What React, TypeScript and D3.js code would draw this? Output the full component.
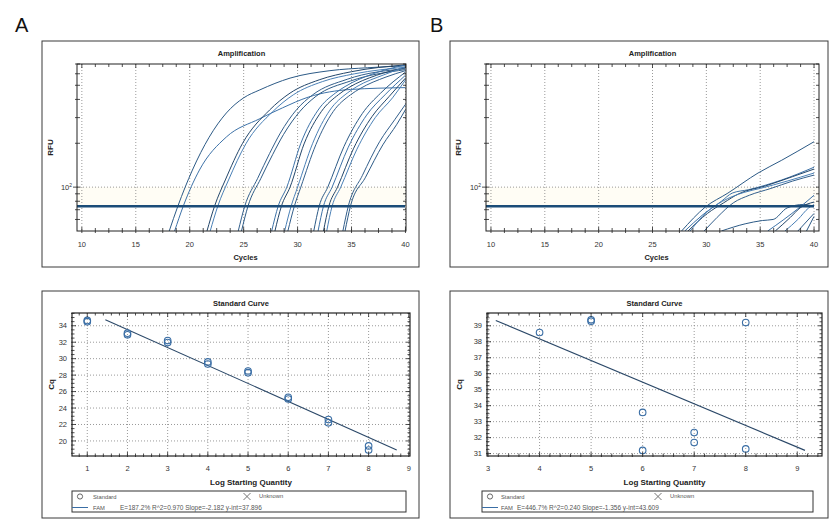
import React from "react";
import * as d3 from "d3";

type Pt = [number, number];

// ---------- DATA ----------
const panelLetters = ["A", "B"];
const ampTitle = "Amplification";
const ampXLabel = "Cycles";
const ampYLabel = "RFU";
const ampCycleTicks = [10, 15, 20, 25, 30, 35, 40];
const ampRfuDomain = [50, 700];
const ampRfuMinorTicks = [60, 70, 80, 90, 200, 300, 400, 500, 600, 700];
const ampThreshold = 74;

const curvesA: Pt[][] = [
  [[18.1, 50], [18.9, 74], [20.25, 131], [21.8, 220], [23.4, 323], [25.0, 410], [26.5, 465], [29.3, 560], [33, 630], [36.5, 660], [40, 680]],
  [[18.6, 50], [19.4, 74], [20.9, 131], [23.4, 221], [26.5, 295], [28.6, 350], [31, 415], [34.9, 468], [40, 482]],
  [[21.6, 50], [22.3, 74], [23.3, 112], [24.9, 200], [27.4, 338], [29.3, 442], [32.0, 545], [35.0, 620], [40, 690]],
  [[21.9, 50], [22.6, 74], [23.6, 112], [25.2, 198], [27.7, 330], [29.6, 430], [32.3, 530], [35.3, 600], [40, 665]],
  [[24.5, 50], [25.1, 74], [26.3, 115], [27.4, 170], [28.4, 235], [29.9, 340], [31.4, 430], [34.6, 550], [40, 650]],
  [[24.8, 50], [25.4, 74], [26.6, 115], [27.7, 168], [28.7, 230], [30.2, 330], [31.7, 420], [34.9, 535], [40, 640]],
  [[27.6, 50], [28.2, 74], [29.0, 100], [30.3, 200], [31.9, 338], [33.5, 442], [34.4, 490], [37, 600], [40, 690]],
  [[27.9, 50], [28.5, 74], [29.3, 100], [30.6, 198], [32.2, 330], [33.8, 432], [34.7, 480], [37.3, 585], [40, 660]],
  [[28.8, 50], [29.4, 74], [30.0, 100], [31.4, 200], [33.0, 338], [34.6, 442], [35.5, 490], [38, 590], [40, 670]],
  [[29.1, 50], [29.7, 74], [30.3, 100], [31.7, 196], [33.3, 330], [34.9, 430], [35.8, 475], [38.2, 570], [40, 630]],
  [[31.5, 50], [32.0, 74], [32.8, 100], [34.3, 190], [36.0, 320], [37.7, 442], [40, 616]],
  [[31.9, 50], [32.4, 74], [33.2, 100], [34.7, 188], [36.4, 312], [38.1, 430], [40, 586]],
  [[32.4, 50], [32.9, 74], [33.7, 100], [35.2, 185], [36.9, 305], [38.5, 420], [40, 560]],
  [[32.7, 50], [33.2, 74], [34.0, 100], [35.5, 182], [37.2, 300], [38.8, 410], [40, 544]],
  [[34.2, 50], [34.7, 74], [36.0, 120], [37.6, 205], [39.0, 290], [40, 370]],
  [[34.4, 50], [34.9, 74], [36.3, 117], [37.9, 195], [39.2, 270], [40, 340]],
];

const curvesB: Pt[][] = [
  [[27.7, 50], [29.9, 73], [32.0, 91], [34.8, 125], [37.0, 153], [40, 205]],
  [[28.0, 50], [29.6, 64], [31.4, 80], [32.4, 91], [33.9, 96], [37.0, 112], [40, 137]],
  [[28.3, 50], [30.1, 66], [31.6, 78], [33.0, 90], [35.5, 102], [38.0, 118], [40, 133]],
  [[28.5, 50], [30.0, 67], [31.5, 80], [33.5, 92], [35.0, 98], [37.5, 110], [40, 125]],
  [[29.8, 50], [31.0, 62], [32.5, 78], [34.0, 88], [36.0, 98], [38.0, 110], [40, 121]],
  [[31.4, 50], [33.6, 56], [35.2, 59], [36.2, 60], [37.5, 72], [39.0, 76], [40, 74]],
  [[35.7, 50], [37.2, 60], [38.7, 73], [40, 88]],
  [[36.4, 50], [37.8, 62], [38.7, 72], [40, 79]],
  [[37.3, 50], [38.5, 60], [39.5, 72], [40, 76]],
  [[38.5, 50], [40, 66]],
  [[39.3, 50], [40, 63]],
];

const stdTitle = "Standard Curve";
const stdXLabel = "Log Starting Quantity";
const stdYLabel = "Cq";

const stdA_x = [1, 1, 2, 2, 3, 3, 4, 4, 5, 5, 6, 6, 7, 7, 8, 8];
const stdA_cq = [34.65, 34.5, 33.1, 32.9, 32.2, 31.95, 29.6, 29.35, 28.5, 28.3, 25.3, 25.1, 22.6, 22.2, 19.4, 18.9];
const stdA_xTicks = [1, 2, 3, 4, 5, 6, 7, 8, 9];
const stdA_yTicks = [20, 22, 24, 26, 28, 30, 32, 34];
const fitA_slopeInt = [-2.182, 37.896];
const fitA_range = [1.45, 8.7];
const legendA = "E=187.2% R^2=0.970 Slope=-2.182 y-int=37.896";

const stdB_x = [4, 5, 5, 6, 6, 7, 7, 8, 8];
const stdB_cq = [38.58, 39.37, 39.29, 33.58, 31.2, 32.32, 31.69, 39.2, 31.29];
const stdB_xTicks = [3, 4, 5, 6, 7, 8, 9];
const stdB_yTicks = [31, 32, 33, 34, 35, 36, 37, 38, 39];
const fitB_slopeInt = [-1.356, 43.609];
const fitB_range = [3.15, 9.15];
const legendB = "E=446.7% R^2=0.240 Slope=-1.356 y-int=43.609";

const legendLabels = ["Standard", "Unknown", "FAM"];

// ---------- STYLE ----------
const FONT = "'Liberation Sans', Arial, sans-serif";
const curveColors = ["#2c5a86", "#3d72a8", "#23466a", "#4a80b6", "#335f8c"];
const gridStroke = "#808080";

type Box = { x: number; y: number; w: number; h: number };
type Plot = { l: number; r: number; t: number; b: number };

function AmpPanel(props: { id: string; box: Box; plot: Plot; xDomain: number[]; curves: Pt[][]; thrEnd: number }) {
  const { id, box, plot, xDomain, curves } = props;
  const x = d3.scaleLinear().domain(xDomain).range([plot.l, plot.r]);
  const y = d3.scaleLog().domain(ampRfuDomain).range([plot.b, plot.t]);
  const line = d3
    .line<Pt>()
    .x((d) => x(d[0]))
    .y((d) => y(d[1]))
    .curve(d3.curveMonotoneX);
  const minorX = d3.range(10, 40.01, 1.25);
  const cx = (plot.l + plot.r) / 2;
  return (
    <g>
      <rect x={box.x} y={box.y} width={box.w} height={box.h} fill="#fff" stroke="#3a3a3a" strokeWidth={1} />
      <text x={cx} y={box.y + 15} textAnchor="middle" fontFamily={FONT} fontWeight="bold" fontSize={7.5} fill="#222">
        {ampTitle}
      </text>
      <defs>
        <clipPath id={id}>
          <rect x={plot.l} y={plot.t} width={plot.r - plot.l} height={plot.b - plot.t} />
        </clipPath>
      </defs>
      <rect x={plot.l} y={y(100)} width={plot.r - plot.l} height={y(ampThreshold) - y(100)} fill="#fffdf5" />
      {ampCycleTicks.map((t) => (
        <line key={t} x1={x(t)} x2={x(t)} y1={plot.t} y2={plot.b} stroke={gridStroke} strokeWidth={0.8} strokeDasharray="1,2" />
      ))}
      <line x1={plot.l} x2={plot.r} y1={y(100)} y2={y(100)} stroke={gridStroke} strokeWidth={0.8} strokeDasharray="1,2" />
      <g clipPath={`url(#${id})`}>
        {curves.map((c, i) => (
          <path key={i} d={line(c) || ""} fill="none" stroke={curveColors[i % curveColors.length]} strokeWidth={1} />
        ))}
      </g>
      <line x1={plot.l} x2={props.thrEnd} y1={y(ampThreshold)} y2={y(ampThreshold)} stroke="#1b4c78" strokeWidth={2.4} />
      <rect x={plot.l} y={plot.t} width={plot.r - plot.l} height={plot.b - plot.t} fill="none" stroke="#222" strokeWidth={1} />
      {minorX.map((t, i) => {
        const major = ampCycleTicks.includes(t);
        return (
          <g key={i}>
            <line x1={x(t)} x2={x(t)} y1={plot.b + 2} y2={plot.b - (major ? 4 : 3)} stroke="#222" strokeWidth={0.8} />
            <line x1={x(t)} x2={x(t)} y1={plot.t} y2={plot.t + (major ? 4 : 3)} stroke="#222" strokeWidth={0.8} />
          </g>
        );
      })}
      {[100, ...ampRfuMinorTicks].map((t) => (
        <g key={t}>
          <line x1={plot.l - (t === 100 ? 4 : 2)} x2={plot.l + 3} y1={y(t)} y2={y(t)} stroke="#222" strokeWidth={0.8} />
          <line x1={plot.r} x2={plot.r - 3} y1={y(t)} y2={y(t)} stroke="#222" strokeWidth={0.8} />
        </g>
      ))}
      {ampCycleTicks.map((t) => (
        <text key={t} x={x(t)} y={plot.b + 16} textAnchor="middle" fontFamily={FONT} fontSize={7.5} fill="#333">
          {t}
        </text>
      ))}
      <text x={plot.l - 5} y={y(100) + 3} textAnchor="end" fontFamily={FONT} fontSize={7.5} fill="#333">
        10
        <tspan dy={-3.5} fontSize={5}>
          2
        </tspan>
      </text>
      <text x={cx + 4} y={plot.b + 29} textAnchor="middle" fontFamily={FONT} fontWeight="bold" fontSize={7.5} fill="#222">
        {ampXLabel}
      </text>
      <text
        transform={`translate(${box.x + 11},${(plot.t + plot.b) / 2}) rotate(-90)`}
        textAnchor="middle"
        fontFamily={FONT}
        fontWeight="bold"
        fontSize={8}
        fill="#222"
      >
        {ampYLabel}
      </text>
    </g>
  );
}

function StdPanel(props: {
  box: Box;
  plot: Plot;
  xDomain: number[];
  yDomain: number[];
  xTicks: number[];
  yTicks: number[];
  yMinorStep: number;
  xs: number[];
  cqs: number[];
  fit: number[];
  fitRange: number[];
  legend: string;
  leg: { l: number; r: number; circ: number; txt: number; cross: number; crossTxt: number; stats: number };
}) {
  const { box, plot, xs, cqs, fit, fitRange, leg } = props;
  const x = d3.scaleLinear().domain(props.xDomain).range([plot.l, plot.r]);
  const y = d3.scaleLinear().domain(props.yDomain).range([plot.b, plot.t]);
  const cx = (plot.l + plot.r) / 2;
  const minorX = d3.range(Math.ceil(props.xDomain[0] * 5) / 5, props.xDomain[1] + 0.001, 0.2);
  const minorY = d3.range(Math.ceil(props.yDomain[0] / props.yMinorStep) * props.yMinorStep, props.yDomain[1] + 0.001, props.yMinorStep);
  const lineFit = d3
    .line<number>()
    .x((d) => x(d))
    .y((d) => y(fit[1] + fit[0] * d));
  const legTop = 491;
  const legBot = 512;
  return (
    <g>
      <rect x={box.x} y={box.y} width={box.w} height={box.h} fill="#fff" stroke="#3a3a3a" strokeWidth={1} />
      <text x={cx} y={box.y + 15} textAnchor="middle" fontFamily={FONT} fontWeight="bold" fontSize={7.5} fill="#222">
        {stdTitle}
      </text>
      {props.xTicks.map((t) => (
        <line key={t} x1={x(t)} x2={x(t)} y1={plot.t} y2={plot.b} stroke={gridStroke} strokeWidth={0.8} strokeDasharray="1,2" />
      ))}
      {props.yTicks.map((t) => (
        <line key={t} x1={plot.l} x2={plot.r} y1={y(t)} y2={y(t)} stroke={gridStroke} strokeWidth={0.8} strokeDasharray="1,2" />
      ))}
      <path d={lineFit(fitRange) || ""} fill="none" stroke="#2b4868" strokeWidth={1.1} />
      {xs.map((v, i) => (
        <circle key={i} cx={x(v)} cy={y(cqs[i])} r={3.3} fill="none" stroke="#3a6ea5" strokeWidth={1.1} />
      ))}
      <rect x={plot.l} y={plot.t} width={plot.r - plot.l} height={plot.b - plot.t} fill="none" stroke="#222" strokeWidth={1.2} />
      {minorX.map((t, i) => {
        const major = Math.abs(t - Math.round(t)) < 1e-6;
        return (
          <g key={i}>
            <line x1={x(t)} x2={x(t)} y1={plot.b + 1} y2={plot.b - (major ? 4 : 2.5)} stroke="#222" strokeWidth={0.8} />
            <line x1={x(t)} x2={x(t)} y1={plot.t} y2={plot.t + (major ? 4 : 2.5)} stroke="#222" strokeWidth={0.8} />
          </g>
        );
      })}
      {minorY.map((t, i) => {
        const major = props.yTicks.some((m) => Math.abs(m - t) < 1e-6);
        return (
          <g key={i}>
            <line x1={plot.l - 1} x2={plot.l + (major ? 4 : 2.5)} y1={y(t)} y2={y(t)} stroke="#222" strokeWidth={0.8} />
            <line x1={plot.r} x2={plot.r - (major ? 4 : 2.5)} y1={y(t)} y2={y(t)} stroke="#222" strokeWidth={0.8} />
          </g>
        );
      })}
      {props.xTicks.map((t) => (
        <text key={t} x={x(t)} y={plot.b + 15} textAnchor="middle" fontFamily={FONT} fontSize={7.5} fill="#333">
          {t}
        </text>
      ))}
      {props.yTicks.map((t) => (
        <text key={t} x={plot.l - 5} y={y(t) + 2.7} textAnchor="end" fontFamily={FONT} fontSize={7.5} fill="#333">
          {t}
        </text>
      ))}
      <text x={cx + 10} y={plot.b + 29} textAnchor="middle" fontFamily={FONT} fontWeight="bold" fontSize={8}
        fill="#222">
        {stdXLabel}
      </text>
      <text
        transform={`translate(${box.x + 12},${(plot.t + plot.b) / 2}) rotate(-90)`}
        textAnchor="middle"
        fontFamily={FONT}
        fontWeight="bold"
        fontSize={8}
        fill="#222"
      >
        {stdYLabel}
      </text>
      <rect x={leg.l} y={legTop} width={leg.r - leg.l} height={legBot - legTop} fill="#fff" stroke="#333" strokeWidth={1} />
      <circle cx={leg.circ} cy={legTop + 5.5} r={2.6} fill="none" stroke="#555" strokeWidth={0.9} />
      <text x={leg.txt} y={legTop + 7.5} fontFamily={FONT} fontSize={5.8} fill="#555">
        {legendLabels[0]}
      </text>
      <line x1={leg.cross - 3.5} x2={leg.cross + 3.5} y1={legTop + 2} y2={legTop + 9} stroke="#666" strokeWidth={0.9} />
      <line x1={leg.cross - 3.5} x2={leg.cross + 3.5} y1={legTop + 9} y2={legTop + 2} stroke="#666" strokeWidth={0.9} />
      <text x={leg.crossTxt} y={legTop + 7} fontFamily={FONT} fontSize={5.8} fill="#555">
        {legendLabels[1]}
      </text>
      <line x1={leg.l} x2={leg.circ + 8} y1={legTop + 16.5} y2={legTop + 16.5} stroke="#3a6ea5" strokeWidth={1} />
      <text x={leg.txt} y={legTop + 18.5} fontFamily={FONT} fontSize={5.8} fill="#555">
        {legendLabels[2]}
      </text>
      <text x={leg.stats} y={legTop + 18.5} fontFamily={FONT} fontSize={6.5} fill="#555">
        {props.legend}
      </text>
    </g>
  );
}

export default function App() {
  return (
    <svg
      width={829}
      height={519}
      viewBox="0 0 829 519"
      style={{ position: "absolute", left: 0, top: 0, background: "#fff" }}
    >
      <rect x={0} y={0} width={829} height={519} fill="#fff" />
      <text x={15} y={32} fontFamily={FONT} fontSize={20} fill="#111">
        {panelLetters[0]}
      </text>
      <text x={430} y={32} fontFamily={FONT} fontSize={20} fill="#111">
        {panelLetters[1]}
      </text>
      <AmpPanel
        id="clipA"
        box={{ x: 42, y: 41, w: 377, h: 226 }}
        plot={{ l: 77, r: 406, t: 64, b: 231 }}
        xDomain={[9.55, 40.05]}
        curves={curvesA}
        thrEnd={405}
      />
      <AmpPanel
        id="clipB"
        box={{ x: 450, y: 41, w: 378, h: 226 }}
        plot={{ l: 486, r: 819, t: 64, b: 231 }}
        xDomain={[9.54, 40.46]}
        curves={curvesB}
        thrEnd={814}
      />
      <StdPanel
        box={{ x: 42, y: 291, w: 377, h: 227 }}
        plot={{ l: 72, r: 410, t: 313, b: 456 }}
        xDomain={[0.62, 9.03]}
        yDomain={[18.17, 35.55]}
        xTicks={stdA_xTicks}
        yTicks={stdA_yTicks}
        yMinorStep={0.5}
        xs={stdA_x}
        cqs={stdA_cq}
        fit={fitA_slopeInt}
        fitRange={fitA_range}
        legend={legendA}
        leg={{ l: 72, r: 406, circ: 80, txt: 93, cross: 247, crossTxt: 259, stats: 120 }}
      />
      <StdPanel
        box={{ x: 450, y: 291, w: 378, h: 227 }}
        plot={{ l: 487, r: 822, t: 313, b: 456 }}
        xDomain={[2.98, 9.48]}
        yDomain={[30.85, 39.8]}
        xTicks={stdB_xTicks}
        yTicks={stdB_yTicks}
        yMinorStep={0.25}
        xs={stdB_x}
        cqs={stdB_cq}
        fit={fitB_slopeInt}
        fitRange={fitB_range}
        legend={legendB}
        leg={{ l: 482, r: 813, circ: 490, txt: 501, cross: 658, crossTxt: 670, stats: 517 }}
      />
    </svg>
  );
}
